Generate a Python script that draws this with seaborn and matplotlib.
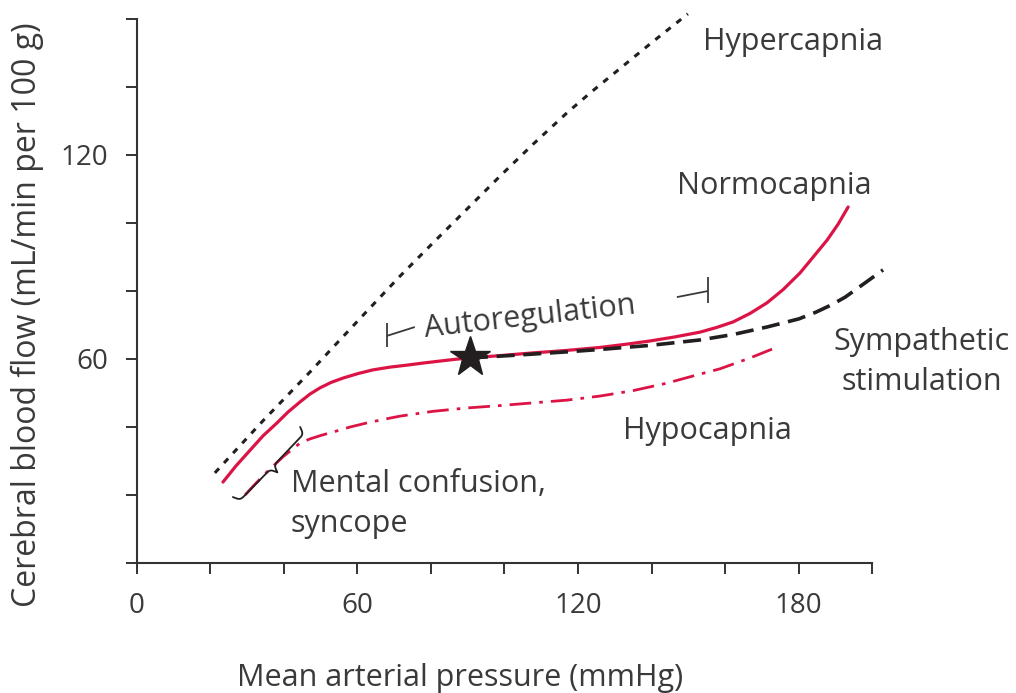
import numpy as np
import matplotlib
matplotlib.use("Agg")
import matplotlib.pyplot as plt
import seaborn as sns

# curves: mean arterial pressure (mmHg) vs CBF (mL/min per 100 g)
hyper_x = [21.2, 34.0, 47.1, 54.7, 62.6, 71.6, 80.5, 89.8, 98.8, 107.8,
           117.0, 123.8, 130.6, 140.1, 149.9]
hyper_y = [26.5, 41.5, 56.2, 65.0, 74.1, 84.4, 94.1, 104.1, 113.8, 123.2,
           132.4, 138.7, 144.7, 153.1, 161.5]

normo_x = [23.4, 26.9, 30.8, 34.3, 38.1, 41.1, 44.4, 47.1, 49.8, 52.8,
           56.1, 60.1, 64.2, 68.8, 73.5, 77.8, 82.5, 86.5, 90.6, 98.8,
           107.8, 116.7, 126.0, 132.8, 139.6, 146.4, 153.2, 157.8, 162.2, 166.8,
           171.4, 175.8, 180.4, 184.0, 187.8, 190.8, 193.5]
normo_y = [23.8, 28.5, 33.2, 37.4, 41.2, 44.4, 47.4, 49.7, 51.5, 53.1,
           54.4, 55.7, 56.8, 57.6, 58.2, 58.8, 59.4, 59.9, 60.3, 61.0,
           61.8, 62.5, 63.4, 64.3, 65.3, 66.5, 67.9, 69.3, 70.9, 73.4,
           76.5, 80.4, 85.3, 90.0, 95.0, 99.7, 104.7]

symp_x = [90.6, 104.2, 117.0, 126.0, 139.6, 153.2, 162.2, 171.4, 180.1, 184.8,
          189.1, 192.7, 196.2, 203.0]
symp_y = [60.3, 61.2, 62.1, 62.8, 64.0, 65.6, 67.2, 69.4, 71.8, 73.8,
          76.0, 78.2, 80.9, 86.2]

hypo_x = [29.4, 32.4, 35.4, 39.7, 44.4, 47.1, 50.3, 53.3, 58.0, 62.6,
          66.9, 71.6, 80.5, 89.8, 98.8, 107.8, 117.0, 126.0, 135.0, 144.2,
          151.3, 158.6, 166.8, 172.8]
hypo_y = [20.0, 23.5, 26.8, 31.2, 35.3, 36.5, 37.6, 38.5, 40.0, 41.2,
          42.2, 43.2, 44.6, 45.6, 46.3, 47.1, 47.9, 49.1, 50.7, 52.9,
          55.0, 57.1, 60.3, 62.9]

star_x = [90.6]
star_y = [60.5]

x_ticks = np.arange(0, 201, 20)
y_ticks = np.arange(0, 161, 20)
x_labels = {0: "0", 60: "60", 120: "120", 180: "180"}
y_labels = {60: "60", 120: "120"}

RED = "#DC1446"
INK = "#231f20"
TXT = "#3a3a3a"

sns.set_theme(style="ticks")
plt.rcParams["font.family"] = ["Open Sans", "DejaVu Sans"]

fig = plt.figure(figsize=(10.16, 6.93), dpi=100)
ax = fig.add_axes([0.1348, 0.1876, 0.8583 - 0.1348, 0.9726 - 0.1876])

sns.lineplot(x=hyper_x, y=hyper_y, ax=ax, color=INK, lw=2.2,
             ls=(0, (2.0, 2.4)), clip_on=False, zorder=3)
sns.lineplot(x=normo_x, y=normo_y, ax=ax, color=RED, lw=2.3, zorder=4)
sns.lineplot(x=hypo_x, y=hypo_y, ax=ax, color=RED, lw=2.0,
             ls=(0, (7.8, 2.9, 1.3, 2.9)), zorder=4)
sns.lineplot(x=symp_x, y=symp_y, ax=ax, color=INK, lw=2.6,
             ls=(0, (5.0, 2.4)), clip_on=False, zorder=5)
ax.plot(star_x, star_y, marker="*", ms=30, color=INK, ls="none", zorder=6)

ax.set_xlim(0, 200)
ax.set_ylim(0, 160)
ax.set_xticks(x_ticks)
ax.set_xticklabels([x_labels.get(int(v), "") for v in x_ticks])
ax.set_yticks(y_ticks)
ax.set_yticklabels([y_labels.get(int(v), "") for v in y_ticks])
ax.tick_params(length=8, width=1.4, color="#333333", labelsize=20,
               labelcolor=TXT, pad=13)
for side in ["left", "bottom"]:
    ax.spines[side].set_linewidth(1.5)
    ax.spines[side].set_color("#333333")
sns.despine(ax=ax)

ax.set_xlabel("Mean arterial pressure (mmHg)", fontsize=22, color=TXT)
ax.set_ylabel("Cerebral blood flow (mL/min per 100 g)", fontsize=23, color=TXT)
ax.xaxis.set_label_coords(0.44, -0.184)
ax.yaxis.set_label_coords(-0.126, 0.456)

lab = dict(fontsize=22, color=TXT)
ax.text(154.0, 150.9, "Hypercapnia", ha="left", va="baseline", **lab)
ax.text(146.9, 108.5, "Normocapnia", ha="left", va="baseline", **lab)
ax.text(213.6, 62.6, "Sympathetic", ha="center", va="baseline", clip_on=False, **lab)
ax.text(213.6, 50.9, "stimulation", ha="center", va="baseline", clip_on=False, **lab)
ax.text(132.2, 36.5, "Hypocapnia", ha="left", va="baseline", **lab)
ax.text(41.9, 20.9, "Mental confusion,", ha="left", va="baseline", **lab)
ax.text(41.9, 9.1, "syncope", ha="left", va="baseline", **lab)
ax.text(106.9, 72.4, "Autoregulation", ha="center", va="center",
        rotation=6.4, rotation_mode="anchor", **lab)

# autoregulation range end marks
br = dict(color=TXT, lw=1.3, solid_capstyle="butt")
ax.plot([68.0, 75.6], [66.8, 69.4], **br)
ax.plot([68.0, 68.0], [63.4, 70.6], **br)
ax.plot([146.9, 155.4], [78.2, 80.0], **br)
ax.plot([155.4, 155.4], [76.5, 84.1], **br)


# curly brace for the low-pressure range, built in pixel space
def brace(ax, p0, p1, width, beta=0.7):
    a = ax.transData.transform(p0)
    b = ax.transData.transform(p1)
    d = b - a
    L = np.hypot(*d)
    u = d / L
    n = np.array([u[1], -u[0]])
    s = np.linspace(0, L / 2, 200)
    half = 1 / (1 + np.exp(-beta * (s - s[0]))) + 1 / (1 + np.exp(-beta * (s - s[-1])))
    off = np.concatenate([half, half[::-1][1:]]) - 0.5
    ss = np.concatenate([s, L - s[::-1][1:]])
    pts = a + np.outer(ss, u) + np.outer(off * width, n)
    return ax.transData.inverted().transform(pts)


bp = brace(ax, (26.1, 19.4), (44.4, 40.0), 15)
ax.plot(bp[:, 0], bp[:, 1], color=INK, lw=1.3, clip_on=False, zorder=5)

fig.savefig("out.png", dpi=100)
